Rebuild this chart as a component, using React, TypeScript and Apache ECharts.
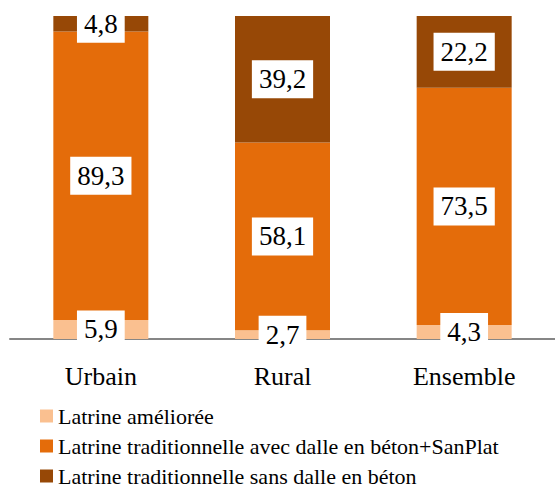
import React, { useEffect, useRef } from "react";
import * as echarts from "echarts";

const categories = ["Urbain", "Rural", "Ensemble"];
const seriesNames = [
  "Latrine améliorée",
  "Latrine traditionnelle avec dalle en béton+SanPlat",
  "Latrine traditionnelle sans dalle en béton",
];
const ameliore = [5.9, 2.7, 4.3];
const avecDalle = [89.3, 58.1, 73.5];
const sansDalle = [4.8, 39.2, 22.2];
const colors = ["#FAC090", "#E46C0A", "#974806"];

const FONT = '"Liberation Serif", "DejaVu Serif", serif';

export default function App() {
  const ref = useRef<HTMLDivElement>(null);
  useEffect(() => {
    if (!ref.current) return;
    const chart = echarts.init(ref.current, undefined, { renderer: "svg" });
    const data = [ameliore, avecDalle, sansDalle];
    chart.setOption({
      animation: false,
      backgroundColor: "#ffffff",
      textStyle: { fontFamily: FONT },
      grid: { left: 10, right: -5, top: 16, bottom: 150, containLabel: false },
      legend: {
        orient: "vertical",
        left: 40,
        top: 405,
        height: 84,
        padding: 0,
        itemWidth: 13,
        itemHeight: 13,
        itemGap: 8,
        icon: "rect",
        textStyle: { fontFamily: FONT, fontSize: 22, lineHeight: 22, color: "#000" },
        data: seriesNames,
      },
      xAxis: {
        type: "category",
        data: categories,
        axisLine: { show: true, lineStyle: { color: "#868686", width: 2 } },
        axisTick: { show: false },
        axisLabel: { fontFamily: FONT, fontSize: 26, color: "#000", margin: 24 },
      },
      yAxis: {
        type: "value",
        min: 0,
        max: 100,
        show: false,
        splitLine: { show: false },
      },
      series: data.map((d, i) => ({
        name: seriesNames[i],
        type: "bar",
        stack: "total",
        barWidth: 95,
        itemStyle: { color: colors[i] },
        data: d,
        label: {
          show: true,
          position: "inside",
          formatter: (p: any) => String(p.value).replace(".", ","),
          fontFamily: FONT,
          fontSize: 27,
          lineHeight: 26,
          color: "#000",
          backgroundColor: "#ffffff",
          padding: [6, 7],
        },
      })),
    });
    return () => chart.dispose();
  }, []);
  return (
    <div
      ref={ref}
      style={{ position: "fixed", left: 0, top: 0, width: 555, height: 489 }}
    />
  );
}
